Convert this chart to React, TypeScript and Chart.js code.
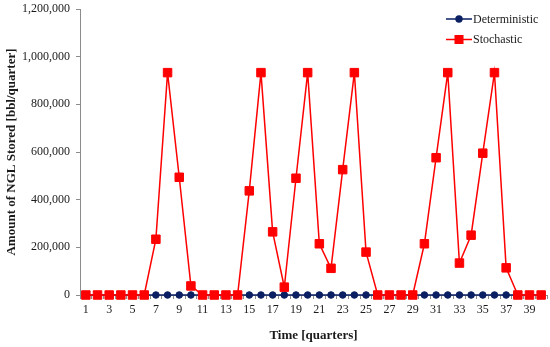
import React, { useEffect, useRef } from "react";
import { Chart, registerables } from "chart.js";

Chart.register(...registerables);

const quarters: string[] = [
  "1", "2", "3", "4", "5", "6", "7", "8", "9", "10",
  "11", "12", "13", "14", "15", "16", "17", "18", "19", "20",
  "21", "22", "23", "24", "25", "26", "27", "28", "29", "30",
  "31", "32", "33", "34", "35", "36", "37", "38", "39", "40",
];

const deterministic: number[] = [
  0, 0, 0, 0, 0, 0, 0, 0, 0, 0,
  0, 0, 0, 0, 0, 0, 0, 0, 0, 0,
  0, 0, 0, 0, 0, 0, 0, 0, 0, 0,
  0, 0, 0, 0, 0, 0, 0, 0, 0, 0,
];

const stochastic: number[] = [
  0, 0, 0, 0, 0, 0, 234000, 933000, 494000, 38000,
  0, 0, 0, 0, 437000, 933000, 265000, 33000, 490000, 933000,
  215000, 112000, 526000, 933000, 180000, 0, 0, 0, 0, 215000,
  576000, 933000, 134000, 251000, 595000, 933000, 114000, 0, 0, 0,
];

const yMin = 0;
const yMax = 1200000;
const yStep = 200000;

const NAVY = "#0b1f63";
const RED = "#ff0000";
const AXIS = "#8c8c8c";
const FONT = "'Liberation Serif', 'Times New Roman', serif";

const legendPlugin = {
  id: "insideLegend",
  afterDraw(chart: any) {
    const ctx = chart.ctx;
    const items = [
      { label: "Deterministic", color: NAVY, style: "circle" },
      { label: "Stochastic", color: RED, style: "rect" },
    ];
    const x0 = 446;
    const lineLen = 26;
    const y0 = 19;
    const rowGap = 20.5;
    ctx.save();
    ctx.font = `12px ${FONT}`;
    ctx.textBaseline = "middle";
    ctx.textAlign = "left";
    items.forEach((it, i) => {
      const y = y0 + i * rowGap;
      ctx.strokeStyle = it.color;
      ctx.lineWidth = 1.5;
      ctx.beginPath();
      ctx.moveTo(x0, y);
      ctx.lineTo(x0 + lineLen, y);
      ctx.stroke();
      ctx.fillStyle = it.color;
      const cx = x0 + lineLen / 2;
      if (it.style === "circle") {
        ctx.beginPath();
        ctx.arc(cx, y, 3.7, 0, Math.PI * 2);
        ctx.fill();
      } else {
        ctx.fillRect(cx - 4.5, y - 4.5, 9, 9);
      }
      ctx.fillStyle = "#1a1a1a";
      ctx.fillText(it.label, x0 + lineLen + 1, y + 0.5);
    });
    ctx.restore();
  },
};

export default function App() {
  const canvasRef = useRef<HTMLCanvasElement | null>(null);

  useEffect(() => {
    if (!canvasRef.current) return;
    const chart = new Chart(canvasRef.current, {
      type: "line",
      data: {
        labels: quarters,
        datasets: [
          {
            label: "Deterministic",
            data: deterministic,
            borderColor: NAVY,
            backgroundColor: NAVY,
            borderWidth: 1.5,
            pointStyle: "circle",
            pointRadius: 3.3,
            pointBorderWidth: 1,
            pointBackgroundColor: NAVY,
            pointBorderColor: NAVY,
            tension: 0,
            clip: false,
            order: 2,
          },
          {
            label: "Stochastic",
            data: stochastic,
            borderColor: RED,
            backgroundColor: RED,
            borderWidth: 1.5,
            pointStyle: "rect",
            pointRadius: 6,
            pointBorderWidth: 1,
            pointBackgroundColor: RED,
            pointBorderColor: RED,
            tension: 0,
            clip: false,
            order: 1,
          },
        ],
      },
      options: {
        responsive: false,
        animation: false,
        layout: { autoPadding: false, padding: { left: 0, right: 3, top: 9, bottom: 0 } },
        plugins: {
          legend: { display: false },
          tooltip: { enabled: false },
        },
        scales: {
          x: {
            type: "category",
            offset: true,
            grid: {
              display: true,
              drawOnChartArea: false,
              drawTicks: true,
              tickLength: 4,
              offset: true,
              color: AXIS,
            },
            border: { display: true, color: AXIS, width: 1 },
            ticks: {
              autoSkip: false,
              maxRotation: 0,
              padding: 4,
              color: "#1a1a1a",
              font: { family: FONT, size: 12 },
              callback: (_v: any, i: number) => (i % 2 === 0 ? quarters[i] : ""),
            },
            title: {
              display: true,
              text: "Time [quarters]",
              color: "#1a1a1a",
              font: { family: FONT, size: 13, weight: "bold" },
              padding: { top: 0, bottom: 4 },
            },
            afterFit: (scale: any) => {
              scale.height = 52;
              scale.paddingLeft = 0;
              scale.paddingRight = 0;
            },
          },
          y: {
            min: yMin,
            max: yMax,
            grid: {
              display: true,
              drawOnChartArea: false,
              drawTicks: true,
              tickLength: 4,
              color: AXIS,
            },
            border: { display: true, color: AXIS, width: 1 },
            ticks: {
              stepSize: yStep,
              padding: 6,
              color: "#1a1a1a",
              font: { family: FONT, size: 12 },
              callback: (v: any) => Number(v).toLocaleString("en-US"),
            },
            title: {
              display: true,
              text: "Amount of NGL Stored [bbl/quarter]",
              color: "#1a1a1a",
              font: { family: FONT, size: 13, weight: "bold" },
              padding: { top: 4, bottom: 0 },
            },
            afterFit: (scale: any) => {
              scale.width = 80;
              scale.paddingTop = 0;
              scale.paddingBottom = 0;
            },
          },
        },
      },
      plugins: [legendPlugin],
    });
    return () => chart.destroy();
  }, []);

  return (
    <div style={{ position: "absolute", left: 0, top: 0, width: 550, height: 347, background: "#fff" }}>
      <canvas ref={canvasRef} width={550} height={347} />
    </div>
  );
}
